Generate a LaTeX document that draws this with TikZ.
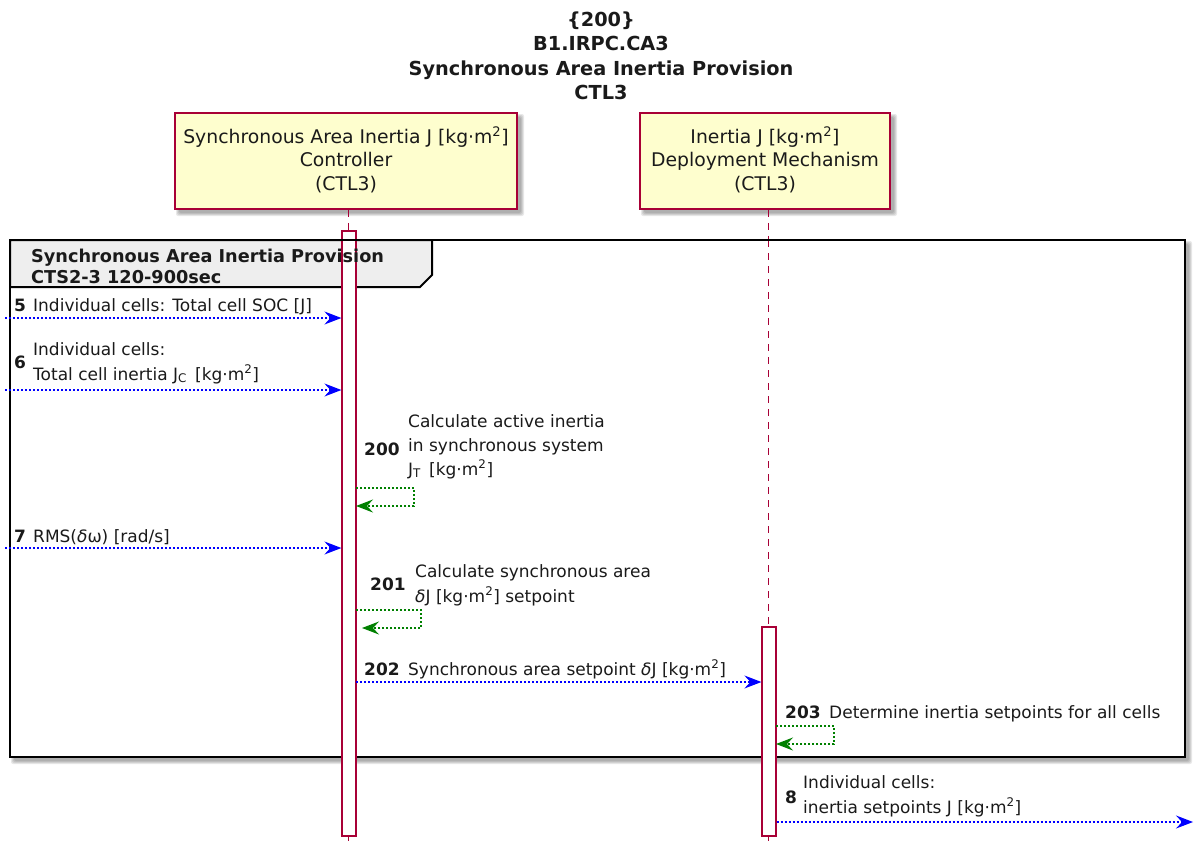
\documentclass[tikz,border=0pt]{standalone}
\usepackage{fontspec}
\setmainfont{DejaVu Sans}
\usetikzlibrary{arrows.meta}
\definecolor{partborder}{HTML}{A80036}
\definecolor{partfill}{HTML}{FEFECE}
\definecolor{msgblue}{HTML}{0000FF}
\definecolor{selfgreen}{HTML}{008000}
\definecolor{grouphead}{HTML}{EEEEEE}
\definecolor{textgray}{HTML}{1A1A1A}
\newcommand{\kgm}{[kg·m\textsuperscript{2}]}
\newcommand{\dlt}{{\itshape δ}}
% soft drop shadow behind a rectangle given by two corners (y grows downward)
\newcommand{\softshadow}[2]{%
  \foreach \s in {0,1,2,3}{%
    \fill[black, opacity=0.09, rounded corners=2pt]
      ([xshift=4pt-\s pt, yshift=-4pt+\s pt]#1) rectangle ([xshift=4pt+\s pt, yshift=-4pt-\s pt]#2);
  }%
}
\tikzset{
  x=1pt, y=-1pt,
  txt/.style={font=\fontsize{17}{24}\selectfont, text=textgray, inner sep=0pt, align=left},
  num/.style={font=\fontsize{17}{20}\selectfont\bfseries, text=textgray, inner sep=0pt},
  participant/.style={draw=partborder, line width=1.5pt, fill=partfill, text=textgray,
    font=\fontsize{18.8}{23.5}\selectfont, align=center, inner sep=0pt},
  activation/.style={draw=partborder, line width=1.2pt, fill=white, minimum width=14pt, inner sep=0pt},
  lifeline/.style={draw=partborder, line width=1pt, dash pattern=on 7pt off 6pt},
  msg/.style={draw=msgblue, line width=1.1pt, dash pattern=on 2pt off 2pt,
    -{Stealth[length=17pt, width=13pt, inset=6pt, fill=msgblue]}},
  selfmsg/.style={draw=selfgreen, line width=1.1pt, dash pattern=on 2pt off 2pt,
    -{Stealth[length=17pt, width=13pt, inset=6pt, fill=selfgreen]}},
}
\begin{document}
\begin{tikzpicture}
\useasboundingbox (0,0) rectangle (1194,843);

% title
\node[font=\fontsize{19.3}{24.5}\selectfont\bfseries, text=textgray, align=center, anchor=north, inner sep=0pt] (title) at (601,11.5)
  {\{200\}\\B1.IRPC.CA3\\Synchronous Area Inertia Provision\\CTL3};

% participant shadows
\softshadow{175,113}{517,209}
\softshadow{640,113}{890,209}

% participants
\node[participant, minimum width=342pt, minimum height=96pt] (ctl) at (346,161)
  {Synchronous Area Inertia J \kgm\\Controller\\(CTL3)\rule[-5pt]{0pt}{0pt}};
\node[participant, minimum width=250pt, minimum height=96pt] (dep) at (765,161)
  {Inertia J \kgm\\Deployment Mechanism\\(CTL3)\rule[-5pt]{0pt}{0pt}};

% lifelines
\coordinate (ctlend) at (348,842);
\coordinate (depend) at (768,842);
\draw[lifeline] (ctl.south -| ctlend) -- (ctlend);
\draw[lifeline] (dep.south -| depend) -- (depend);

% group frame with shadow
\softshadow{10,240}{1185,757}
\fill[white] (10,240) rectangle (1185,757);
\draw[lifeline] (348,240) -- (348,757);
\draw[lifeline] (768,240) -- (768,757);
\draw[line width=2.7pt] (10,240) rectangle (1185,757);

% group header tab
\draw[line width=2pt, fill=grouphead] (10,240) -- (432,240) -- (432,275) -- (420,287) -- (10,287) -- cycle;

% activation bars
\node[activation, minimum height=605pt] (act1) at (349,533.5) {};
\node[activation, minimum height=209pt] (act2) at (769,731.5) {};

\node[font=\fontsize{17.7}{21.5}\selectfont\bfseries, text=textgray, align=left, anchor=north west, inner sep=0pt] (grp) at (31,248.5)
  {Synchronous Area Inertia Provision\\CTS2-3 120-900sec};
\draw[line width=2.7pt] (10,240) -- (1185,240);

% message 5
\coordinate (in5) at (5,318);
\draw[msg] (in5) -- (in5 -| act1.west);
\node[num, anchor=base west] (n5) at (14,311) {5};
\node[txt, anchor=base west] (t5) at (33,311) {Individual cells: Total cell SOC [J]};

% message 6
\coordinate (in6) at (5,390);
\draw[msg] (in6) -- (in6 -| act1.west);
\node[num, anchor=base west] (n6) at (14,368) {6};
\node[txt, anchor=north west] (t6) at (33,342) {Individual cells:\\[1pt]Total cell inertia J\textsubscript{C}\, \kgm};

% self message 200
\coordinate (s200a) at (356,488);
\coordinate (s200b) at (356,506);
\draw[selfmsg] (s200a) -- ++(58,0) -- ++(0,18) -- (s200b);
\node[num, anchor=base west] (n200) at (364,455) {200};
\node[txt, anchor=north west] (t200) at (408,414) {Calculate active inertia\\in synchronous system\\J\textsubscript{T}\, \kgm};

% message 7
\coordinate (in7) at (5,548);
\draw[msg] (in7) -- (in7 -| act1.west);
\node[num, anchor=base west] (n7) at (14,542) {7};
\node[txt, anchor=base west] (t7) at (33,542) {RMS(\dlt ω) [rad/s]};

% self message 201
\coordinate (s201a) at (356,610);
\coordinate (s201b) at (362,628);
\draw[selfmsg] (s201a) -- (421,610) -- (421,628) -- (s201b);
\node[num, anchor=base west] (n201) at (370,590) {201};
\node[txt, anchor=north west] (t201) at (415,564) {Calculate synchronous area\\[1pt]\dlt J \kgm\ setpoint};

% message 202
\coordinate (m202) at (356,682);
\draw[msg] (m202) -- (m202 -| act2.west);
\node[num, anchor=base west] (n202) at (364,675) {202};
\node[txt, anchor=base west] (t202) at (408,675) {Synchronous area setpoint \dlt J \kgm};

% self message 203
\coordinate (s203a) at (776,726);
\coordinate (s203b) at (776,744);
\draw[selfmsg] (s203a) -- ++(58,0) -- ++(0,18) -- (s203b);
\node[num, anchor=base west] (n203) at (785,718) {203};
\node[txt, anchor=base west] (t203) at (829,718) {Determine inertia setpoints for all cells};

% message 8
\coordinate (out8) at (1193,822);
\draw[msg] (out8 -| act2.east) -- (out8);
\node[num, anchor=base west] (n8) at (785,803) {8};
\node[txt, anchor=north west] (t8) at (803,775) {Individual cells:\\[1pt]inertia setpoints J \kgm};
\end{tikzpicture}
\end{document}
